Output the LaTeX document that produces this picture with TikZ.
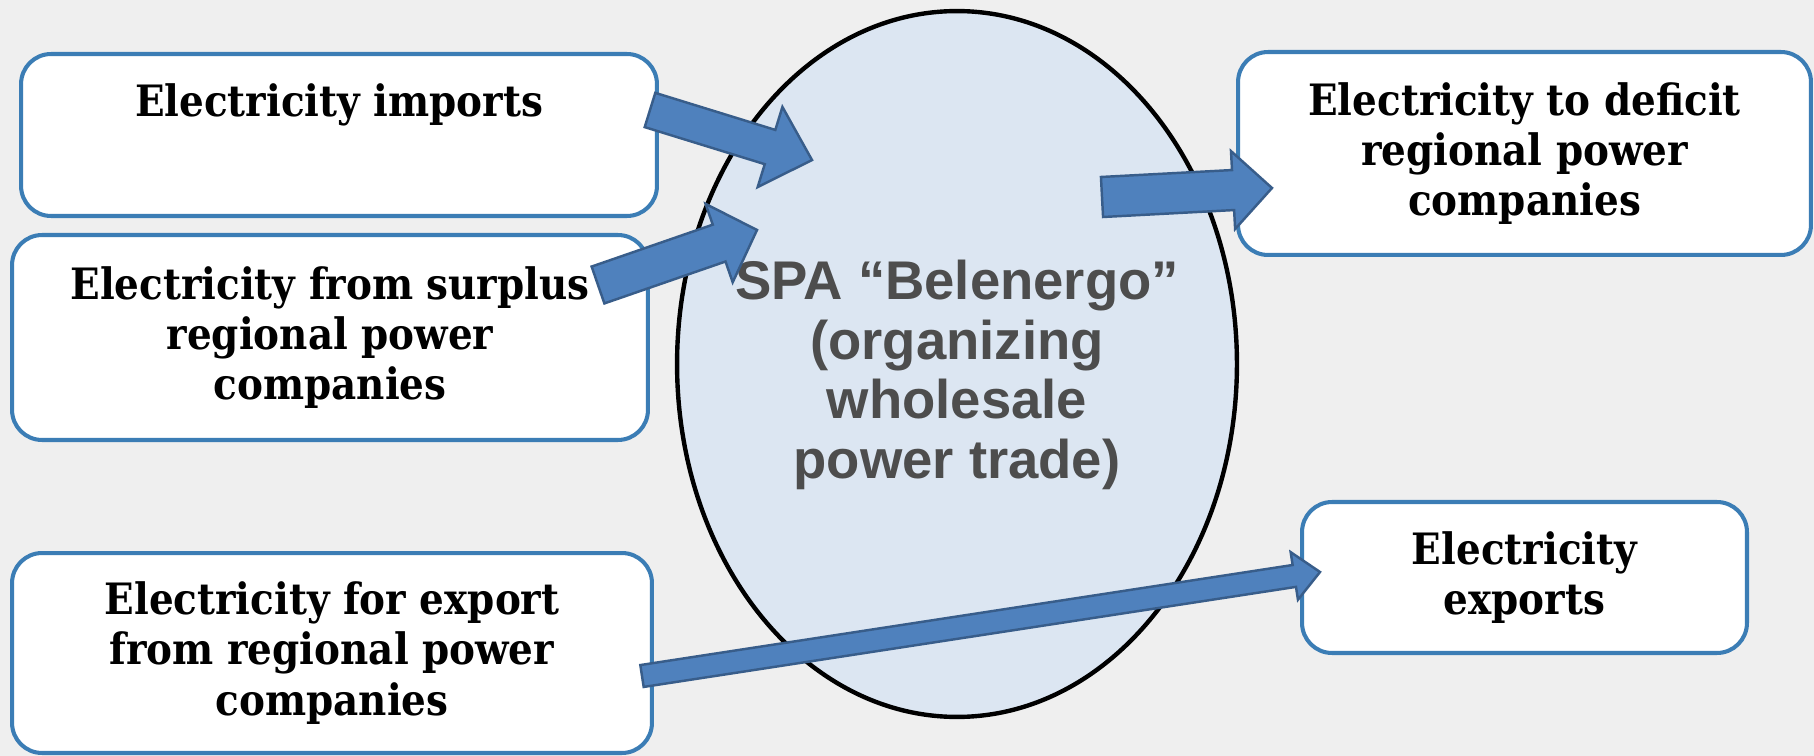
\documentclass[tikz,border=0pt]{standalone}
\usepackage{fontspec}
\setmainfont{DejaVu Serif Condensed}
\newfontfamily\spafont{Liberation Sans}
\usepackage{tikz}
\usetikzlibrary{shapes,positioning,calc}

\definecolor{boxline}{HTML}{3B7DB5}
\definecolor{spafill}{HTML}{DCE6F2}
\definecolor{arrowfill}{HTML}{4F81BD}
\definecolor{arrowline}{HTML}{385D8A}
\definecolor{spatext}{HTML}{4D4D4D}
\definecolor{backdrop}{HTML}{EFEFEF}

% block arrow: tail, tip, half shaft, half head, head length
\newcommand{\blockarrow}[5]{%
  \coordinate (hb) at ($(#2)!#5!(#1)$);
  \filldraw[fatarrow] ($(#1)!#3!90:(#2)$) -- ($(hb)!#3!90:(#2)$) -- ($(hb)!#4!90:(#2)$) -- (#2)
    -- ($(hb)!#4!-90:(#2)$) -- ($(hb)!#3!-90:(#2)$) -- ($(#1)!#3!-90:(#2)$) -- cycle;
}

\begin{document}
\begin{tikzpicture}[x=0.02cm, y=-0.02cm,
    box/.style={draw=boxline, line width=2.3pt, fill=white, rounded corners=0.6cm, align=center,
      inner sep=0pt, font=\bfseries\fontsize{24.6}{28.5}\selectfont},
    fatarrow/.style={fill=arrowfill, draw=arrowline, line width=1.4pt, line join=miter}]
    % Background
    \fill[backdrop] (0,0) rectangle (1814,756);
    \useasboundingbox (0,0) rectangle (1814,756);

    % Left boxes
    \node[box, minimum width=12.72cm, minimum height=3.24cm] (imports) at (339,135) {Electricity imports\\[0.4cm]\mbox{}};
    \node[box, minimum width=12.72cm, minimum height=4.1cm] (surplus) at (330,337.5) {Electricity from surplus\\regional power\\companies};
    \node[box, minimum width=12.8cm, minimum height=4cm] (forexport) at (332,653) {Electricity for export\\from regional power\\companies};

    % Right boxes
    \node[box, minimum width=11.46cm, minimum height=4.06cm] (deficit) at (1524.5,153.5) {Electricity to deficit\\regional power\\companies};
    \node[box, minimum width=8.9cm, minimum height=3.02cm] (exports) at (1524.5,577.5) {Electricity\\exports};

    % SPA Belenergo
    \node[ellipse, draw, line width=2.5pt, fill=spafill, minimum width=11.2cm, minimum height=14.12cm,
      inner sep=0pt] (spa) at (957,364) {};
    \node[align=center, text=spatext, font=\spafont\bfseries\fontsize{31}{34}\selectfont]
      (spalabel) at (957,375) {SPA “Belenergo”\\(organizing\\wholesale\\power trade)};

    % Arrow ends
    \coordinate (impT) at (650,110);  \coordinate (impH) at (812,160);
    \coordinate (surT) at (598,285);  \coordinate (surH) at (757,230);
    \coordinate (defT) at (1102,197); \coordinate (defH) at (1272,188);
    \coordinate (expT) at (642,676);  \coordinate (expH) at (1320,572);

    % Block arrows
    \blockarrow{impT}{impH}{10.2pt}{23.9pt}{25pt}
    \blockarrow{surT}{surH}{11.1pt}{23.6pt}{22.8pt}
    \blockarrow{defT}{defH}{11.4pt}{22.2pt}{22.2pt}
    \blockarrow{expT}{expH}{6.3pt}{13.7pt}{14.8pt}
\end{tikzpicture}
\end{document}
